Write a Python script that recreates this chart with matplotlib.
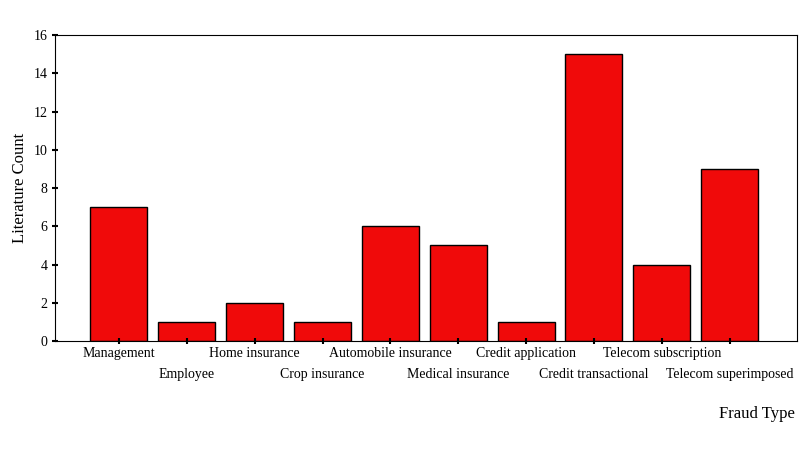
import matplotlib
matplotlib.use("Agg")
import matplotlib.pyplot as plt

categories = ["Management", "Employee", "Home insurance", "Crop insurance",
              "Automobile insurance", "Medical insurance", "Credit application",
              "Credit transactional", "Telecom subscription", "Telecom superimposed"]
counts = [7, 1, 2, 1, 6, 5, 1, 15, 4, 9]
yticks = [0, 2, 4, 6, 8, 10, 12, 14, 16]

plt.rcParams['font.family'] = ['Liberation Serif', 'DejaVu Serif']
fig = plt.figure(figsize=(8, 4.5), dpi=100)
ax = fig.add_axes([0.069, 0.242, 0.927, 0.68])
x = list(range(len(categories)))
ax.bar(x, counts, width=0.84, color='#f00a0a', edgecolor='black', linewidth=1)
ax.set_xlim(-0.94, 9.99)
ax.set_ylim(0, 16)
ax.set_yticks(yticks)
ax.tick_params(axis='y', direction='inout', length=4, width=1.5, labelsize=10)
ax.set_xticks(x)
ax.set_xticklabels([])
ax.tick_params(axis='x', direction='inout', length=4, width=1.5)
for i, c in enumerate(categories):
    off = -0.04 if i % 2 == 0 else -0.11
    ax.text(i, off, c, transform=ax.get_xaxis_transform(), ha='center', va='center', fontsize=10)
ax.set_ylabel("Literature Count", fontsize=12)
fig.text(0.993, 0.08, "Fraud Type", ha='right', va='center', fontsize=12)
fig.savefig("out.png")
